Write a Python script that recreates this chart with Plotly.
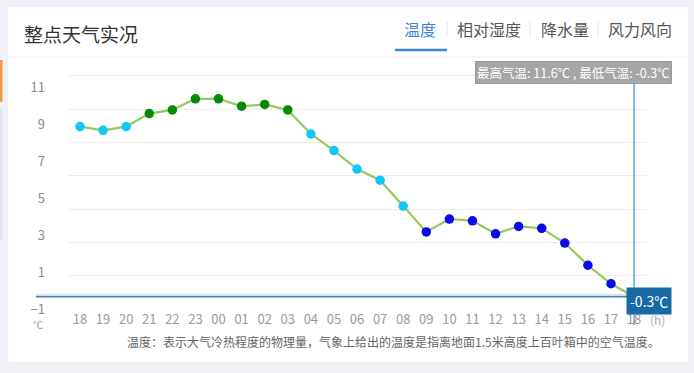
import plotly.graph_objects as go

hours = ["18", "19", "20", "21", "22", "23", "00", "01", "02", "03", "04", "05", "06",
         "07", "08", "09", "10", "11", "12", "13", "14", "15", "16", "17", "18"]
temps = [8.9, 8.7, 8.9, 9.6, 9.8, 10.4, 10.4, 10.0, 10.1, 9.8, 8.5, 7.6, 6.6,
         6.0, 4.6, 3.2, 3.9, 3.8, 3.1, 3.5, 3.4, 2.6, 1.4, 0.4, -0.3]
y_ticks = [-1, 1, 3, 5, 7, 9, 11]
max_temp = 11.6
min_temp = -0.3

W, H = 694, 373
FONT = "Noto Sans CJK SC"


def px(x):
    return x / W


def py(y):
    return 1 - y / H


def color_for(t):
    if t >= 9.5:
        return "#058a05"
    if t >= 4:
        return "#10c8f8"
    return "#0a0af0"


xs = list(range(len(hours)))
marker_colors = [color_for(t) for t in temps]

fig = go.Figure()
fig.add_trace(go.Scatter(
    x=xs, y=temps, mode="lines+markers",
    line=dict(color="#95c85a", width=2.2),
    marker=dict(size=9.5, color=marker_colors, line=dict(width=0)),
    hoverinfo="skip", showlegend=False, cliponaxis=False,
))
# invisible trace on grid axis
fig.add_trace(go.Scatter(x=[0], y=[0], yaxis="y2", mode="markers",
                         marker=dict(opacity=0), showlegend=False, hoverinfo="skip"))

shapes = [
    # white card
    dict(type="rect", xref="paper", yref="paper", x0=px(8), x1=px(688), y0=py(362), y1=py(7),
         fillcolor="white", line=dict(width=0), layer="below"),
    # left page hints
    dict(type="rect", xref="paper", yref="paper", x0=0, x1=px(2.5), y0=py(102), y1=py(60),
         fillcolor="#f39a3c", line=dict(width=0), layer="below"),
    dict(type="rect", xref="paper", yref="paper", x0=0, x1=px(2.5), y0=py(240), y1=py(108),
         fillcolor="#e4e5ea", line=dict(width=0), layer="below"),
    # header divider
    dict(type="line", xref="paper", yref="paper", x0=px(8), x1=px(688), y0=py(57), y1=py(57),
         line=dict(color="#ececec", width=1)),
    # tab underline
    dict(type="line", xref="paper", yref="paper", x0=px(395), x1=px(447), y0=py(50), y1=py(50),
         line=dict(color="#3d84e0", width=2.5)),
    # tab separators
    dict(type="line", xref="paper", yref="paper", x0=px(447), x1=px(447), y0=py(22), y1=py(37),
         line=dict(color="#e2e2e2", width=1)),
    dict(type="line", xref="paper", yref="paper", x0=px(530), x1=px(530), y0=py(22), y1=py(37),
         line=dict(color="#e2e2e2", width=1)),
    dict(type="line", xref="paper", yref="paper", x0=px(598), x1=px(598), y0=py(22), y1=py(37),
         line=dict(color="#e2e2e2", width=1)),
    # gray baseline
    dict(type="line", xref="paper", yref="paper", x0=px(36), x1=px(634), y0=py(295), y1=py(295),
         line=dict(color="#dcdcdc", width=2)),
    # min temperature line
    dict(type="line", xref="paper", yref="y", x0=px(36), x1=px(634), y0=min_temp, y1=min_temp,
         line=dict(color="#3a85c8", width=1.5)),
    # crosshair vertical line
    dict(type="line", xref="x", yref="paper", x0=xs[-1], x1=xs[-1], y0=py(325), y1=py(81),
         line=dict(color="#1a78c2", width=1)),
]

annotations = [
    dict(text="整点天气实况", x=px(22), y=py(33), xref="paper", yref="paper",
         xanchor="left", yanchor="middle", showarrow=False,
         font=dict(family=FONT, size=19, color="#333333")),
    dict(text="温度", x=px(420), y=py(29), xref="paper", yref="paper",
         xanchor="center", yanchor="middle", showarrow=False,
         font=dict(family=FONT, size=16, color="#3d84e0")),
    dict(text="相对湿度", x=px(488.5), y=py(29), xref="paper", yref="paper",
         xanchor="center", yanchor="middle", showarrow=False,
         font=dict(family=FONT, size=16, color="#555555")),
    dict(text="降水量", x=px(565), y=py(29), xref="paper", yref="paper",
         xanchor="center", yanchor="middle", showarrow=False,
         font=dict(family=FONT, size=16, color="#555555")),
    dict(text="风力风向", x=px(640), y=py(29), xref="paper", yref="paper",
         xanchor="center", yanchor="middle", showarrow=False,
         font=dict(family=FONT, size=16, color="#555555")),
    dict(text=f"最高气温: {max_temp}℃ , 最低气温: {min_temp}℃", x=px(573), y=py(72.5),
         xref="paper", yref="paper", xanchor="center", yanchor="middle", showarrow=False,
         bgcolor="#a6a6a6", bordercolor="#9a9a9a", borderwidth=1, borderpad=1,
         font=dict(family=FONT, size=12.5, color="white")),
    dict(text=f"{min_temp}℃", x=xs[-1], y=min_temp, xref="x", yref="y",
         xanchor="left", yanchor="middle", xshift=-8, yshift=-4, showarrow=False,
         bgcolor="#176aa3", borderpad=3,
         font=dict(family=FONT, size=14, color="white")),
    dict(text="(h)", x=px(657), y=py(319), xref="paper", yref="paper",
         xanchor="center", yanchor="middle", showarrow=False,
         font=dict(family=FONT, size=12, color="#b0b0b0")),
    dict(text="℃", x=px(38), y=py(324), xref="paper", yref="paper",
         xanchor="center", yanchor="middle", showarrow=False,
         font=dict(family=FONT, size=10, color="#999999")),
    dict(text="温度：表示大气冷热程度的物理量，气象上给出的温度是指离地面1.5米高度上百叶箱中的空气温度。",
         x=px(662), y=py(341), xref="paper", yref="paper",
         xanchor="right", yanchor="middle", showarrow=False,
         font=dict(family=FONT, size=12, color="#666666")),
]

fig.update_layout(
    width=W, height=H, autosize=False,
    margin=dict(l=0, r=0, t=0, b=0, pad=0, autoexpand=False),
    paper_bgcolor="#eff1f6", plot_bgcolor="rgba(0,0,0,0)",
    font=dict(family=FONT),
    showlegend=False,
    xaxis=dict(domain=[px(68), px(647)], range=[-0.52, 24.56], automargin=False,
               tickmode="array", tickvals=xs, ticktext=hours,
               showgrid=False, zeroline=False, showline=False, ticks="",
               tickfont=dict(size=13, color="#9a9a9a"), fixedrange=True),
    yaxis=dict(domain=[py(310), py(60)], range=[-1.02, 12.5], automargin=False,
               tickmode="array", tickvals=y_ticks, showgrid=False, zeroline=False,
               showline=False, ticks="", ticklabelstandoff=22,
               tickfont=dict(size=13, color="#8a8a8a"), fixedrange=True),
    yaxis2=dict(overlaying="y", domain=[py(310), py(60)], range=[-0.03, 7.47], automargin=False,
                dtick=1, tick0=0, showgrid=True, gridcolor="#ececec", gridwidth=1,
                zeroline=False, showticklabels=False, ticks="", fixedrange=True),
    shapes=shapes,
    annotations=annotations,
)

fig.write_html("out.html", config={"displayModeBar": False},
               post_script="document.body.style.margin='0';")
